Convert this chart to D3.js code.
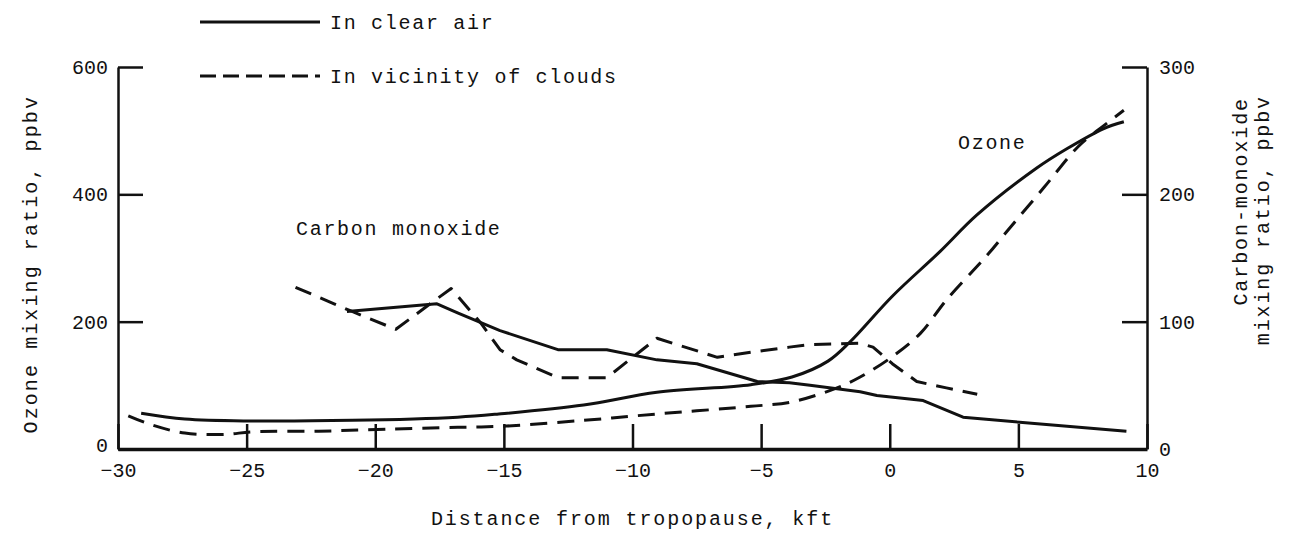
<!DOCTYPE html>
<html>
<head>
<meta charset="utf-8">
<script src="https://cdn.jsdelivr.net/npm/d3@7"></script>
<style>
  body { margin: 0; background: #fff; }
  svg text { font-family: "Liberation Mono", "DejaVu Sans Mono", monospace; fill: #111; }
</style>
</head>
<body>
<div id="chart"></div>
<script>
/* Ozone and CO vs distance from tropopause */

// x ticks (kft) and y ticks
const xTicks = [-30, -25, -20, -15, -10, -5, 0, 5, 10];
const ozoneTicks = [0, 200, 400, 600];
const coTicks = [0, 100, 200, 300];

// ozone, ppbv (left axis)
const ozoneClearX = [-29.1, -27.4, -24.8, -20.9, -16.8, -15.2, -11.9, -9.05, -5.4, -3.8, -2.4, -1.55, 0.1, 1.95, 3.4, 5.7, 6.9, 8.3, 9.1];
const ozoneClearY = [56, 47, 44, 45, 50, 55, 69, 89, 101, 113, 138, 168, 240, 310, 368, 441, 472, 503, 514];

const ozoneCloudX = [-29.6, -28.7, -27.4, -25.8, -24.8, -22.2, -19.6, -16.8, -14.9, -11.9, -9.05, -5.4, -3.8, -2.05, -1.15, 0.1, 1.2, 2.2, 3.8, 4.6, 6.0, 7.3, 8.1, 9.1];
const ozoneCloudY = [52, 38, 25, 23, 27, 28, 31, 34, 36, 45, 55, 67, 74, 96, 113, 145, 182, 234, 305, 344, 411, 474, 501, 532];

// carbon monoxide, ppbv (right axis)
const coClearX = [-21.1, -17.6, -16.8, -15.15, -12.9, -11.0, -9.05, -7.5, -5.15, -3.9, -3.1, -1.15, -0.5, 1.3, 2.85, 5.05, 9.2];
const coClearY = [108, 114, 107, 93, 78, 78, 70, 67, 53, 52, 50, 45, 42, 38, 25, 21, 14];

const coCloudX = [-23.1, -21.6, -20.9, -19.2, -17.8, -17.05, -15.9, -15.15, -14.5, -12.9, -11.0, -9.05, -6.7, -5.4, -3.9, -3.1, -1.15, -0.65, 0.1, 1.05, 2.2, 3.4];
const coCloudY = [127, 114, 108, 94, 115, 126, 99, 78, 70, 56, 56, 87, 72, 76, 80, 82, 83, 80, 67, 53, 48, 43];

const zip = (xs, ys) => xs.map((v, i) => ({ x: v, y: ys[i] }));

const width = 1300, height = 546;
const margin = { top: 67, right: 153, bottom: 97, left: 118 };

const svg = d3.select("#chart")
  .append("svg")
  .attr("width", width)
  .attr("height", height);

const x = d3.scaleLinear()
  .domain([-30, 10])
  .range([margin.left, width - margin.right]);

const yO = d3.scaleLinear()
  .domain([0, 600])
  .range([height - margin.bottom, margin.top]);

const yC = d3.scaleLinear()
  .domain([0, 300])
  .range([height - margin.bottom, margin.top]);

const styleAxis = g => {
  g.selectAll("line").attr("stroke", "#111").attr("stroke-width", 2.5);
  g.selectAll(".domain").attr("stroke", "#111").attr("stroke-width", 2.5);
  g.selectAll("text")
    .attr("font-size", 20)
    .attr("font-family", "Liberation Mono, DejaVu Sans Mono, monospace")
    .attr("fill", "#111");
};

// Axes with inward ticks
svg.append("g")
  .attr("transform", `translate(0, ${height - margin.bottom})`)
  .call(d3.axisBottom(x).tickValues(xTicks).tickSizeInner(-25).tickSizeOuter(0).tickPadding(14))
  .call(styleAxis)
  .call(g => g.select(".domain").attr("stroke-width", 3.5));

svg.append("g")
  .attr("transform", `translate(${margin.left}, 0)`)
  .call(d3.axisLeft(yO).tickValues(ozoneTicks).tickSizeInner(-25).tickSizeOuter(0).tickPadding(10))
  .call(styleAxis)
  .call(g => g.selectAll(".tick text").filter(d => d === 0).attr("dy", "0.1em"));

svg.append("g")
  .attr("transform", `translate(${width - margin.right}, 0)`)
  .call(d3.axisRight(yC).tickValues(coTicks).tickSizeInner(-25).tickSizeOuter(0).tickPadding(12))
  .call(styleAxis);

// Lines
const lineO = d3.line().x(d => x(d.x)).y(d => yO(d.y)).curve(d3.curveCatmullRom);
const lineC = d3.line().x(d => x(d.x)).y(d => yC(d.y));
const dash = "17,10";

const series = [
  { data: zip(ozoneClearX, ozoneClearY), line: lineO, dashed: false },
  { data: zip(ozoneCloudX, ozoneCloudY), line: lineO, dashed: true },
  { data: zip(coClearX, coClearY), line: lineC, dashed: false },
  { data: zip(coCloudX, coCloudY), line: lineC, dashed: true }
];

svg.selectAll("path.series")
  .data(series)
  .join("path")
  .attr("class", "series")
  .attr("d", d => d.line(d.data))
  .attr("fill", "none")
  .attr("stroke", "#111")
  .attr("stroke-width", 3)
  .attr("stroke-linejoin", "round")
  .attr("stroke-dasharray", d => d.dashed ? dash : null);

// Legend
const legend = [
  { label: "In clear air", dashed: false, y: 22 },
  { label: "In vicinity of clouds", dashed: true, y: 76 }
];
legend.forEach(l => {
  svg.append("line")
    .attr("x1", 200).attr("x2", 320)
    .attr("y1", l.y).attr("y2", l.y)
    .attr("stroke", "#111")
    .attr("stroke-width", 3)
    .attr("stroke-dasharray", l.dashed ? "16,7" : null);
  svg.append("text")
    .attr("x", 330).attr("y", l.y + 7)
    .attr("font-size", 20)
    .attr("letter-spacing", 1.7)
    .text(l.label);
});

// Annotations
svg.append("text")
  .attr("x", 958).attr("y", 149)
  .attr("font-size", 20).attr("letter-spacing", 1.7)
  .text("Ozone");

svg.append("text")
  .attr("x", 296).attr("y", 235)
  .attr("font-size", 20).attr("letter-spacing", 1.7)
  .text("Carbon monoxide");

// Axis titles
svg.append("text")
  .attr("x", (margin.left + width - margin.right) / 2)
  .attr("y", 525)
  .attr("text-anchor", "middle")
  .attr("font-size", 20).attr("letter-spacing", 1.9)
  .text("Distance from tropopause, kft");

svg.append("text")
  .attr("transform", "translate(37, 95) rotate(-90)")
  .attr("text-anchor", "end")
  .attr("font-size", 20).attr("letter-spacing", 2.1)
  .text("Ozone mixing ratio, ppbv");

svg.append("text")
  .attr("transform", "translate(1247, 97) rotate(-90)")
  .attr("text-anchor", "end")
  .attr("font-size", 20).attr("letter-spacing", 1.9)
  .text("Carbon-monoxide");

svg.append("text")
  .attr("transform", "translate(1269, 95) rotate(-90)")
  .attr("text-anchor", "end")
  .attr("font-size", 20).attr("letter-spacing", 1.9)
  .text("mixing ratio, ppbv");
</script>
</body>
</html>
